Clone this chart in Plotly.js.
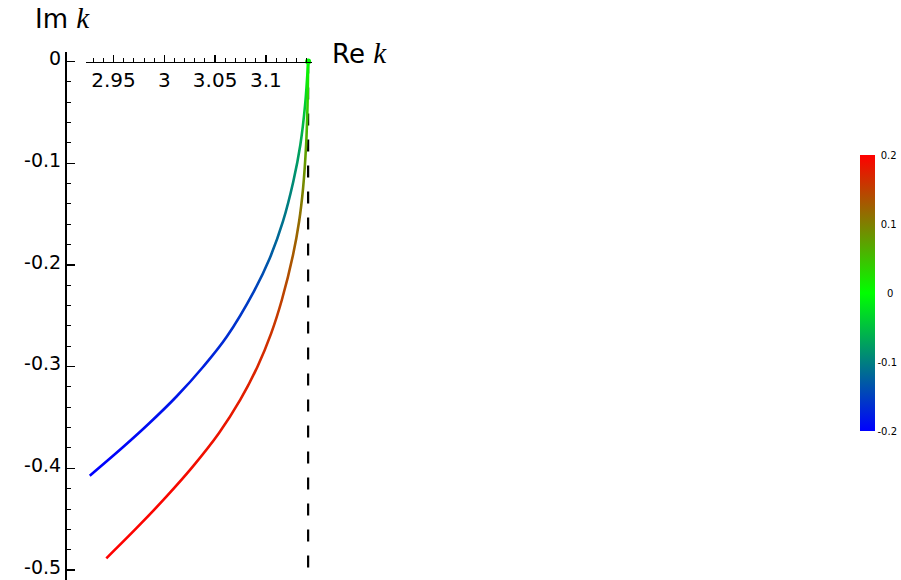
<!DOCTYPE html>
<html><head><meta charset="utf-8">
<script src="https://cdn.plot.ly/plotly-3.0.1.min.js"></script>
<style>html,body{margin:0;padding:0;background:#fff}</style>
</head><body><div id="chart" style="width:901px;height:580px"></div>
<script>
// Curve 1 (blue branch): Re k, Im k, colour parameter
const blueRe = [3.1416, 3.1386, 3.1339, 3.1270, 3.1168, 3.1037, 3.0881, 3.0616, 3.0385, 3.0120, 2.9849, 2.9600, 2.9266];
const blueIm = [0, -0.0428, -0.0821, -0.1180, -0.1573, -0.1937, -0.2262, -0.2704, -0.2999, -0.3294, -0.3560, -0.3786, -0.4073];
const blueC  = [0, -0.04, -0.07, -0.09, -0.11, -0.13, -0.15, -0.165, -0.175, -0.183, -0.19, -0.195, -0.2];
// Curve 2 (red branch)
const redRe = [3.1416, 3.1410, 3.1396, 3.1366, 3.1327, 3.1267, 3.1157, 3.1052, 3.0917, 3.0747, 3.0537, 3.0280, 3.0020, 2.9740, 2.9429];
const redIm = [0, -0.0428, -0.0821, -0.1247, -0.1573, -0.1903, -0.2345, -0.2673, -0.3001, -0.3328, -0.3656, -0.3984, -0.4279, -0.4574, -0.4885];
const redC  = [0, 0.04, 0.07, 0.095, 0.115, 0.13, 0.15, 0.16, 0.17, 0.178, 0.185, 0.19, 0.195, 0.198, 0.2];
// Dashed vertical line at Re k = pi
const asymRe = [3.14159, 3.14159];
const asymIm = [0, -0.5];
// Ticks
const xTickVals = [2.95, 3, 3.05, 3.1];
const xTickText = ['2.95', '3', '3.05', '3.1'];
const yTickVals = [0, -0.1, -0.2, -0.3, -0.4, -0.5];
const yTickText = ['0', '-0.1', '-0.2', '-0.3', '-0.4', '-0.5'];
const cbTickVals = [-0.2, -0.1, 0, 0.1, 0.2];
const cbTickText = ['-0.2', '-0.1', '0', '0.1', '0.2'];
const cMin = -0.2, cMax = 0.2;

const colorscale = [[0, 'rgb(0,0,255)'], [0.5, 'rgb(0,255,0)'], [1, 'rgb(255,0,0)']];
function colorAt(v) {
  let t = (v - cMin) / (cMax - cMin);
  t = Math.max(0, Math.min(1, t));
  let r, g, b;
  if (t < 0.5) { const s = t / 0.5; r = 0; g = 255 * s; b = 255 * (1 - s); }
  else { const s = (t - 0.5) / 0.5; r = 255 * s; g = 255 * (1 - s); b = 0; }
  return 'rgb(' + Math.round(r) + ',' + Math.round(g) + ',' + Math.round(b) + ')';
}
// centre the short colour-bar labels under the widest one
const NB = '\u00a0';
const cbLabels = cbTickText.map(function (s) {
  if (s.charAt(0) === '-') return s;
  return (s.length === 1 ? NB + NB + NB : NB) + s;
});

const traces = [
  {x: asymRe, y: asymIm, mode: 'lines', hoverinfo: 'skip', showlegend: false,
   line: {color: '#000', width: 2.2, dash: '12px,14px'}},
  {x: blueRe, y: blueIm, mode: 'lines', hoverinfo: 'skip', showlegend: false,
   line: {color: colorAt(-0.15), width: 2.6, shape: 'spline', smoothing: 1}},
  {x: redRe, y: redIm, mode: 'lines', hoverinfo: 'skip', showlegend: false,
   line: {color: colorAt(0.15), width: 2.6, shape: 'spline', smoothing: 1}},
  {x: [blueRe[0]], y: [blueIm[0]], mode: 'markers', hoverinfo: 'skip', showlegend: false,
   marker: {
     size: 0, color: [0], cmin: cMin, cmax: cMax, colorscale: colorscale, showscale: true,
     colorbar: {
       thickness: 15, thicknessmode: 'pixels', len: 276, lenmode: 'pixels',
       x: 860 / 901, xanchor: 'left', y: (580 - 293.5) / 580, yanchor: 'middle',
       xpad: 0, ypad: 0, outlinewidth: 0, ticks: '',
       tickmode: 'array', tickvals: cbTickVals, ticktext: cbLabels,
       tickfont: {family: 'DejaVu Sans', size: 10, color: '#000'}
     }
   }}
];

const W = 901, H = 580;
const kSpan = '<span style="font-family:\'Liberation Serif\';font-style:italic;font-size:29px">k</span>';
const layout = {
  width: W, height: H, margin: {l: 0, r: 0, t: 0, b: 0},
  paper_bgcolor: '#fff', plot_bgcolor: 'rgba(0,0,0,0)', showlegend: false,
  xaxis: {
    domain: [85.5 / W, 312 / W], range: [2.9224, 3.1454],
    anchor: 'free', position: (H - 61.5) / H, side: 'bottom',
    showgrid: false, zeroline: false, showline: true, linecolor: '#000', linewidth: 1.5,
    ticks: 'inside', ticklen: 7, tickwidth: 1.3, tickcolor: '#000',
    tickmode: 'array', tickvals: xTickVals, ticktext: xTickText,
    tickfont: {family: 'DejaVu Sans', size: 20, color: '#000'},
    minor: {ticks: 'inside', ticklen: 4, tickwidth: 1, tickcolor: '#000', dtick: 0.01, tick0: 2.95, showgrid: false},
    automargin: false, fixedrange: true, ticklabeloverflow: 'allow'
  },
  yaxis: {
    domain: [0, (H - 52) / H], range: [-0.5098, 0.0093],
    anchor: 'free', position: 65 / W, side: 'left',
    showgrid: false, zeroline: false, showline: true, linecolor: '#000', linewidth: 1.5,
    ticks: 'inside', ticklen: 8, tickwidth: 1.3, tickcolor: '#000',
    tickmode: 'array', tickvals: yTickVals, ticktext: yTickText,
    tickfont: {family: 'DejaVu Sans', size: 19, color: '#000'}, ticklabelshift: -3,
    minor: {ticks: 'inside', ticklen: 4, tickwidth: 1, tickcolor: '#000', dtick: 0.02, tick0: 0, showgrid: false},
    automargin: false, fixedrange: true, ticklabeloverflow: 'allow'
  },
  annotations: [
    {text: 'Im ' + kSpan,
     xref: 'paper', yref: 'paper', x: 33 / W, xanchor: 'left', y: (H - 18) / H, yanchor: 'middle',
     showarrow: false, font: {family: 'DejaVu Sans', size: 26, color: '#000'}},
    {text: 'Re ' + kSpan,
     xref: 'paper', yref: 'paper', x: 330 / W, xanchor: 'left', y: (H - 53) / H, yanchor: 'middle',
     showarrow: false, font: {family: 'DejaVu Sans', size: 26, color: '#000'}}
  ]
};

// Colour each curve along its length: gradient stops from the colour parameter at each data point
function applyGradient(gd, traceIndex, im, c, id) {
  const groups = gd.querySelectorAll('.scatterlayer .trace');
  const g = groups[traceIndex];
  if (!g) return;
  const path = g.querySelector('path.js-line');
  if (!path) return;
  const svg = path.ownerSVGElement;
  const NS = 'http://www.w3.org/2000/svg';
  let defs = svg.querySelector('defs');
  if (!defs) { defs = document.createElementNS(NS, 'defs'); svg.insertBefore(defs, svg.firstChild); }
  const grad = document.createElementNS(NS, 'linearGradient');
  grad.setAttribute('id', id);
  grad.setAttribute('x1', '0'); grad.setAttribute('y1', '0');
  grad.setAttribute('x2', '0'); grad.setAttribute('y2', '1');
  const top = Math.max.apply(null, im), bot = Math.min.apply(null, im);
  for (let i = 0; i < im.length; i++) {
    const stop = document.createElementNS(NS, 'stop');
    stop.setAttribute('offset', ((top - im[i]) / (top - bot)).toFixed(4));
    stop.setAttribute('stop-color', colorAt(c[i]));
    grad.appendChild(stop);
  }
  defs.appendChild(grad);
  path.style.stroke = 'url(#' + id + ')';
}

Plotly.newPlot('chart', traces, layout, {staticPlot: true, displayModeBar: false}).then(function (gd) {
  applyGradient(gd, 1, blueIm, blueC, 'gradBlue');
  applyGradient(gd, 2, redIm, redC, 'gradRed');
});
</script>
</body></html>
